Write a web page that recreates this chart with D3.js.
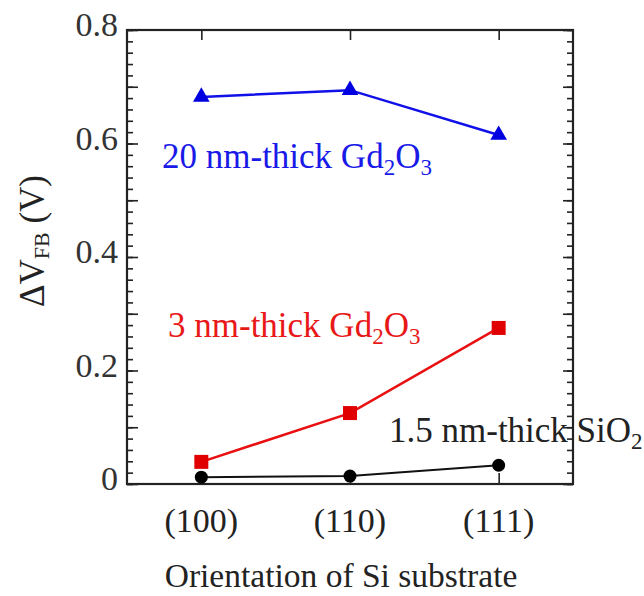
<!DOCTYPE html>
<html>
<head>
<meta charset="utf-8">
<script src="https://cdn.jsdelivr.net/npm/d3@7"></script>
<style>
  body { margin: 0; background: #fff; }
  text { font-family: "Liberation Serif", "Times New Roman", serif; }
</style>
</head>
<body>
<div id="main"></div>
<script>
var orientations = ["(100)", "(110)", "(111)"];
var gd20nm = [0.682, 0.694, 0.615];
var gd3nm = [0.039, 0.125, 0.275];
var sio2 = [0.012, 0.014, 0.033];
var yTickLabels = [0, 0.2, 0.4, 0.6, 0.8];

var plotLeft = 127, plotRight = 573, plotTop = 30, plotBottom = 484;

var canvas = d3.select("#main").append("svg")
  .attr("width", 644)
  .attr("height", 596);//create canvas

var xScale = d3.scaleLinear().domain([0.5, 3.5]).range([plotLeft, plotRight]);//x positions of categories
var yScale = d3.scaleLinear().domain([0, 0.8]).range([plotBottom, plotTop]);//y scale

// minor and major ticks, inward on left and right
var minor = d3.range(0, 0.8001, 0.02);
var major = d3.range(0, 0.8001, 0.1);
function noDomain(g) { g.select(".domain").remove(); g.selectAll("line").attr("stroke", "#222").attr("stroke-width", 1.6); }
canvas.append("g")
  .attr("transform", "translate(" + plotLeft + ",0)")
  .call(d3.axisRight(yScale).tickValues(minor).tickSize(6).tickFormat(""))
  .call(noDomain);
canvas.append("g")
  .attr("transform", "translate(" + plotLeft + ",0)")
  .call(d3.axisRight(yScale).tickValues(major).tickSize(11).tickFormat(""))
  .call(noDomain);
canvas.append("g")
  .attr("transform", "translate(" + plotRight + ",0)")
  .call(d3.axisLeft(yScale).tickValues(minor).tickSize(6).tickFormat(""))
  .call(noDomain);
canvas.append("g")
  .attr("transform", "translate(" + plotRight + ",0)")
  .call(d3.axisLeft(yScale).tickValues(major).tickSize(10).tickFormat(""))
  .call(noDomain);

// x ticks top and bottom
canvas.append("g")
  .attr("transform", "translate(0," + plotBottom + ")")
  .call(d3.axisTop(xScale).tickValues([1, 2, 3]).tickSize(11).tickFormat(""))
  .call(noDomain);
canvas.append("g")
  .attr("transform", "translate(0," + plotTop + ")")
  .call(d3.axisBottom(xScale).tickValues([1, 2, 3]).tickSize(10).tickFormat(""))
  .call(noDomain);

// frame
canvas.append("rect")
  .attr("x", plotLeft).attr("y", plotTop)
  .attr("width", plotRight - plotLeft).attr("height", plotBottom - plotTop)
  .attr("fill", "none").attr("stroke", "#222").attr("stroke-width", 2.2);

// y tick labels
canvas.selectAll(".ylab").data(yTickLabels).enter().append("text")
  .attr("x", plotLeft - 9)
  .attr("y", function(d) { return yScale(d) + 6; })
  .attr("text-anchor", "end")
  .style("font-size", "34px")
  .attr("fill", "#333")
  .text(function(d) { return d === 0 ? "0" : d.toFixed(1); });

// x tick labels
canvas.selectAll(".xlab").data(orientations).enter().append("text")
  .attr("x", function(d, i) { return xScale(i + 1); })
  .attr("y", 532)
  .attr("text-anchor", "middle")
  .style("font-size", "34px")
  .attr("fill", "#222")
  .text(function(d) { return d; });

// axis titles
canvas.append("text")
  .attr("x", 341).attr("y", 587)
  .attr("text-anchor", "middle")
  .style("font-size", "33.5px")
  .attr("fill", "#222")
  .text("Orientation of Si substrate");
var yt = canvas.append("text")
  .attr("transform", "translate(44, 241) rotate(-90)")
  .attr("text-anchor", "middle")
  .style("font-size", "35px")
  .attr("fill", "#222");
yt.append("tspan").text("ΔV");
yt.append("tspan").attr("dy", 5).style("font-size", "22px").text("FB");
yt.append("tspan").attr("dy", -5).text(" (V)");

// series
var line = d3.line()
  .x(function(d, i) { return xScale(i + 1); })
  .y(function(d) { return yScale(d); });

canvas.append("path").datum(sio2).attr("d", line)
  .attr("fill", "none").attr("stroke", "#111").attr("stroke-width", 2);
canvas.append("path").datum(gd3nm).attr("d", line)
  .attr("fill", "none").attr("stroke", "#e81010").attr("stroke-width", 2.5);
canvas.append("path").datum(gd20nm).attr("d", line)
  .attr("fill", "none").attr("stroke", "#1010e8").attr("stroke-width", 2.5);

canvas.selectAll(".dot").data(sio2).enter().append("circle")
  .attr("cx", function(d, i) { return xScale(i + 1); })
  .attr("cy", function(d) { return yScale(d); })
  .attr("r", 6.5)
  .attr("fill", "#000");
canvas.selectAll(".sq").data(gd3nm).enter().append("path")
  .attr("transform", function(d, i) { return "translate(" + xScale(i + 1) + "," + yScale(d) + ")"; })
  .attr("d", d3.symbol().type(d3.symbolSquare).size(196))
  .attr("fill", "#e00000");
canvas.selectAll(".tri").data(gd20nm).enter().append("path")
  .attr("transform", function(d, i) { return "translate(" + xScale(i + 1) + "," + yScale(d) + ")"; })
  .attr("d", d3.symbol().type(d3.symbolTriangle).size(120))
  .attr("fill", "#0000e0");

// series labels
function label(x, y, color, parts) {
  var t = canvas.append("text")
    .attr("x", x).attr("y", y)
    .style("font-size", "35px")
    .attr("fill", color);
  parts.forEach(function(p) {
    if (p.sub) t.append("tspan").attr("dy", 7).style("font-size", "23px").text(p.s);
    else t.append("tspan").attr("dy", p.back ? -7 : 0).text(p.s);
  });
}
label(162, 168, "#1a1ae8", [{s: "20 nm-thick Gd"}, {s: "2", sub: true}, {s: "O", back: true}, {s: "3", sub: true}]);
label(168, 337, "#e81818", [{s: "3 nm-thick Gd"}, {s: "2", sub: true}, {s: "O", back: true}, {s: "3", sub: true}]);
label(389, 442, "#222", [{s: "1.5 nm-thick SiO"}, {s: "2", sub: true}]);
</script>
</body>
</html>
